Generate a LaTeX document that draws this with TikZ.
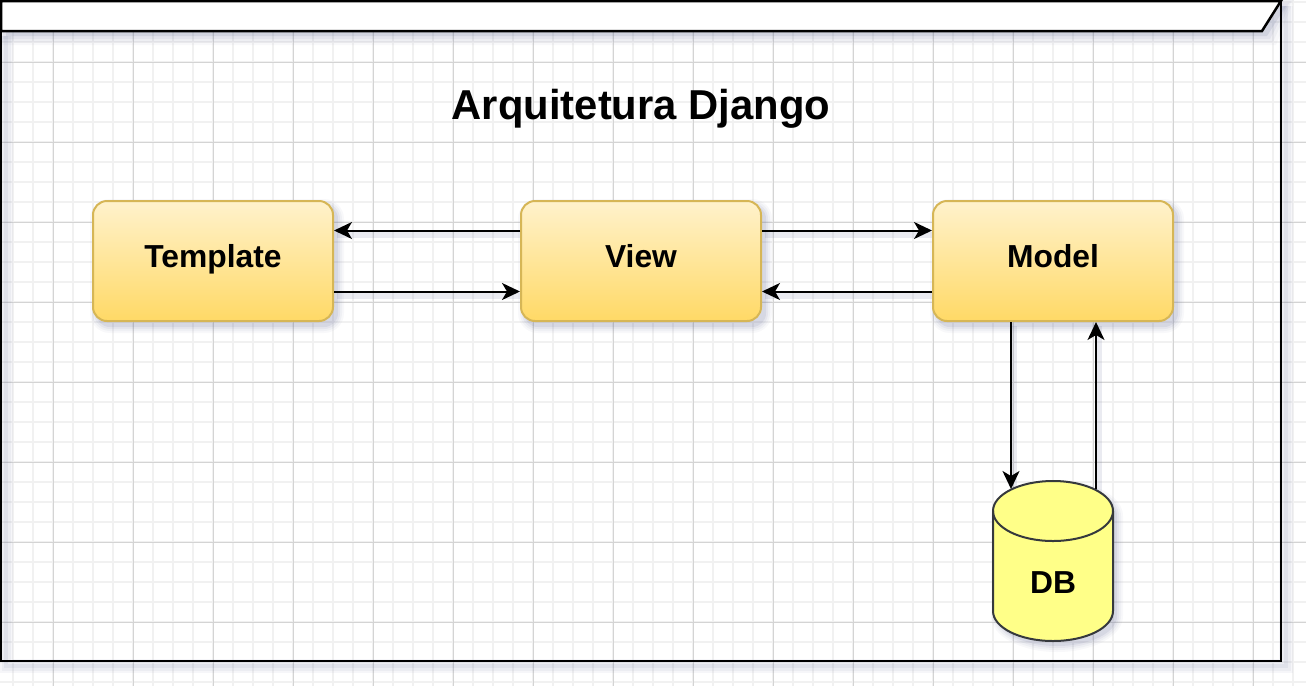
\documentclass[tikz,border=0pt]{standalone}
\usepackage{fontspec}
\setmainfont{Liberation Sans}
\usetikzlibrary{arrows.meta,calc}
\pgfdeclarelayer{bg}
\pgfdeclarelayer{shadow}
\pgfsetlayers{bg,shadow,main}
\definecolor{gridminor}{HTML}{F1F1F1}
\definecolor{gridmajor}{HTML}{D4D4D4}
\definecolor{shadowc}{HTML}{5A6290}
\definecolor{boxtop}{HTML}{FFF2CC}
\definecolor{boxbot}{HTML}{FFD966}
\definecolor{boxline}{HTML}{D6B656}
\definecolor{dbfill}{HTML}{FFFF88}
\definecolor{dbline}{HTML}{36393D}
\tikzset{
  mvcbox/.style={draw=boxline, line width=2pt, rounded corners=14pt, top color=boxtop, bottom color=boxbot, minimum width=240pt, minimum height=120pt, inner sep=0pt},
  boxtext/.style={anchor=base, font=\fontsize{31.8}{36}\selectfont\bfseries, inner sep=0pt},
  titletext/.style={anchor=base, font=\fontsize{41.8}{48}\selectfont\bfseries, inner sep=0pt},
  conn/.style={line width=2pt, -{Stealth[length=18pt,width=17pt,inset=5pt]}},
  connshadow/.style={line width=6pt, draw=shadowc, opacity=0.12, transform canvas={xshift=3pt,yshift=-4pt}},
  framestyle/.style={draw=black, line width=2.5pt},
}
\newcommand\mvcconn[2]{%
  \begin{pgfonlayer}{shadow}
    \draw[connshadow] #1 -- #2;
  \end{pgfonlayer}
  \draw[conn] #1 -- #2;}
\begin{document}
\begin{tikzpicture}[x=1pt,y=-1pt]
\useasboundingbox (0,0) rectangle (1306,686);
\begin{pgfonlayer}{bg}
  \fill[white] (0,0) rectangle (1306,686);
  \foreach \x in {13,33,...,1293} \draw[gridminor, line width=2pt] (\x,0) -- (\x,686);
  \foreach \y in {2,22,...,682} \draw[gridminor, line width=2pt] (0,\y) -- (1306,\y);
  \foreach \x in {53,133,...,1253} \draw[gridmajor, line width=1pt] (\x,0) -- (\x,686);
  \foreach \y in {62,142,...,622} \draw[gridmajor, line width=1pt] (0,\y) -- (1306,\y);
\end{pgfonlayer}

% frame shadow
\begin{pgfonlayer}{shadow}
  \foreach \w/\o in {14/0.05,9/0.06,4/0.08}{
    \draw[shadowc, opacity=\o, line width=\w pt, transform canvas={xshift=5pt,yshift=-5pt}] (1,31) -- (1,661) -- (1281,661) -- (1281,1);
  }
  \foreach \e/\o in {0/0.12,3/0.08,6/0.06,9/0.04}{
    \fill[shadowc, opacity=\o] (1+5-\e,1+5-\e) -- (1281+5+\e,1+5-\e) -- (1262+5+\e,31+5+\e) -- (1+5-\e,31+5+\e) -- cycle;
  }
\end{pgfonlayer}

% frame
\draw[framestyle] (1.2,1.2) rectangle (1280.8,660.8);
\draw[framestyle, fill=white] (1.2,1.2) -- (1280.8,1.2) -- (1262,31) -- (1.2,31) -- cycle;

% title
\node[titletext] (title) at (641,119) {Arquitetura Django};

% boxes
\node[mvcbox] (tpl) at (213,261) {};
\node[mvcbox] (view) at (641,261) {};
\node[mvcbox] (model) at (1053,261) {};
\begin{pgfonlayer}{shadow}
  \foreach \n in {tpl,view,model}{
    \foreach \e/\r/\o in {0/14/0.10,2/16/0.07,4/18/0.05,6/20/0.04}{
      \fill[shadowc, opacity=\o, rounded corners=\r pt] ($(\n.north west)+(4-\e,5-\e)$) rectangle ($(\n.south east)+(4+\e,5+\e)$);
    }
  }
\end{pgfonlayer}
\node[boxtext] (tplText) at ([yshift=-6pt]tpl.center) {Template};
\node[boxtext] (viewText) at ([yshift=-6pt]view.center) {View};
\node[boxtext] (modelText) at ([yshift=-6pt]model.center) {Model};

% database cylinder
\node[minimum width=120pt, minimum height=160pt, inner sep=0pt] (db) at (1053,561) {};
\begin{pgfonlayer}{shadow}
  \foreach \e/\o in {0/0.10,2/0.07,4/0.05,6/0.04}{
    \fill[shadowc, opacity=\o] (993+4-\e,511+5) -- (993+4-\e,611+5) arc[start angle=180, end angle=360, x radius=60pt+\e pt, y radius=30pt+\e pt] -- (1113+4+\e,511+5) arc[start angle=0, end angle=180, x radius=60pt+\e pt, y radius=30pt+\e pt] -- cycle;
  }
\end{pgfonlayer}
\draw[draw=dbline, fill=dbfill, line width=2pt] (993,511) -- (993,611) arc[start angle=180, end angle=360, x radius=60pt, y radius=30pt] -- (1113,511) arc[start angle=0, end angle=180, x radius=60pt, y radius=30pt] -- cycle;
\draw[draw=dbline, line width=2pt] (993,511) arc[start angle=180, end angle=360, x radius=60pt, y radius=30pt];
\node[boxtext] (dbText) at (1053,593) {DB};
\coordinate (dbIn) at (1011,489);
\coordinate (dbOut) at (1096,489);

% connectors
\mvcconn{($(view.north west)!0.25!(view.south west)$)}{($(tpl.north east)!0.25!(tpl.south east)$)}
\mvcconn{($(tpl.north east)!0.75!(tpl.south east)$)}{($(view.north west)!0.75!(view.south west)$)}
\mvcconn{($(view.north east)!0.25!(view.south east)$)}{($(model.north west)!0.25!(model.south west)$)}
\mvcconn{($(model.north west)!0.75!(model.south west)$)}{($(view.north east)!0.75!(view.south east)$)}
\mvcconn{(dbIn |- model.south)}{(dbIn)}
\mvcconn{(dbOut)}{(dbOut |- model.south)}
\end{tikzpicture}
\end{document}
